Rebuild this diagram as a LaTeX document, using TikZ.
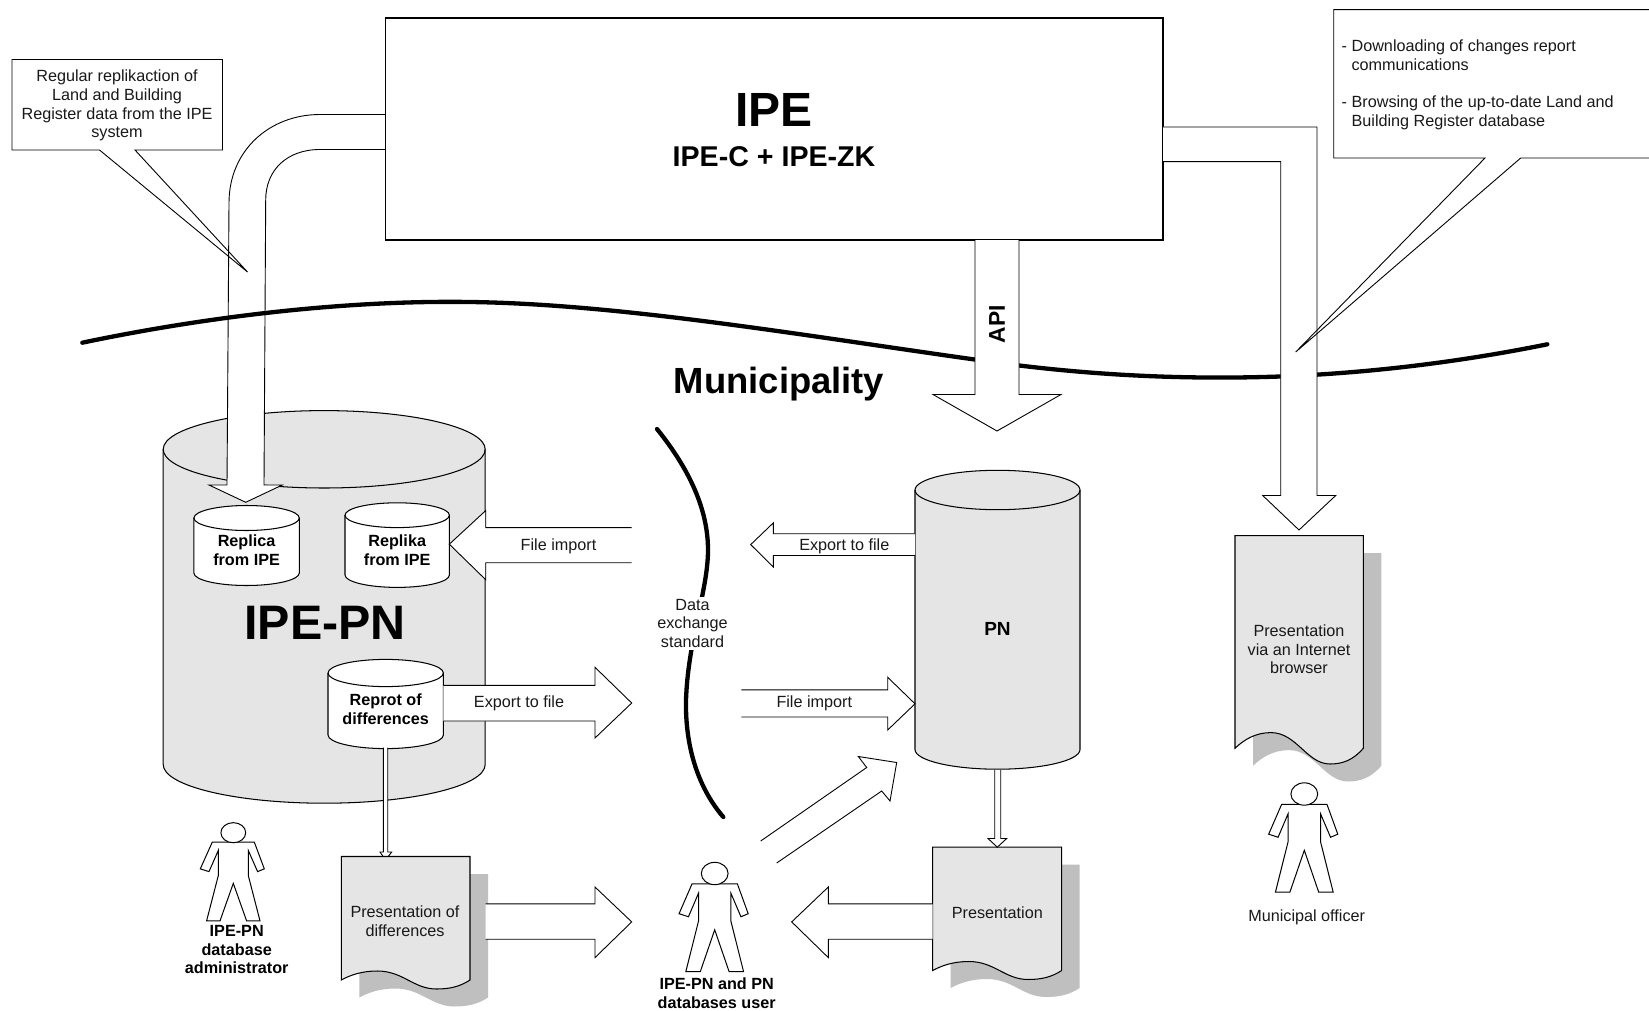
\documentclass[tikz,border=0pt]{standalone}
\usepackage{fontspec}
\setmainfont{Liberation Sans}
\definecolor{bodygray}{HTML}{E5E5E5}
\definecolor{shadegray}{HTML}{BFBFBF}
\newcommand{\fs}[1]{\fontsize{#1}{9.35pt}\selectfont}
\tikzset{
  outline/.style={draw=black,line width=0.52pt,line join=miter},
  blockarrow/.style={draw=black,fill=white,line width=0.45pt,line join=miter},
  thickcurve/.style={draw=black,line width=2.15pt,line cap=round,line join=round},
  callout/.style={draw=black,line width=0.45pt,line join=miter},
  plain/.style={font=\fs{8.1},align=center,inner sep=0pt,text=black!90},
  boldtxt/.style={font=\fs{8.1}\bfseries,align=center,inner sep=0pt},
}
% cylinder: name, cx, top-ellipse cy, rx, ry, side-end y, fill
\newcommand{\cylshape}[7]{%
  \path[outline,fill=#7] (#2-#4,#3) -- (#2-#4,#6)
     arc[start angle=180,end angle=360,x radius=#4*0.5pt,y radius=#5*0.5pt]
     -- (#2+#4,#3)
     arc[start angle=0,end angle=180,x radius=#4*0.5pt,y radius=#5*0.5pt] -- cycle;
  \path[outline] (#2-#4,#3)
     arc[start angle=180,end angle=360,x radius=#4*0.5pt,y radius=#5*0.5pt];
  \coordinate (#1) at (#2,#3);
}
% wave outline of a document: w, h, amplitude, offset x, offset y
\newcommand{\wavepath}[5]{%
  (#4,#5) -- (#4+#1,#5) -- (#4+#1,#5+#2)
      .. controls (#4+0.92*#1,#5+#2+0.75*#3) and (#4+0.84*#1,#5+#2+#3) .. (#4+0.74*#1,#5+#2+#3)
      .. controls (#4+0.56*#1,#5+#2+#3) and (#4+0.48*#1,#5+#2-#3) .. (#4+0.28*#1,#5+#2-#3)
      .. controls (#4+0.16*#1,#5+#2-#3) and (#4+0.07*#1,#5+#2-0.55*#3) .. (#4,#5+#2) -- cycle}
% document: name, x, y, w, hleft, amplitude
\newcommand{\docshape}[6]{%
  \begin{scope}[shift={(#2,#3)}]
    \fill[shadegray] \wavepath{#4}{#5}{#6}{18}{17.5};
    \path[outline,fill=bodygray] \wavepath{#4}{#5}{#6}{0}{0};
    \coordinate (#1) at (0,0);
  \end{scope}
}
% person: name, head centre, x scale, y scale
\newcommand{\personshape}[5]{%
  \begin{scope}[shift={(#2,#3)},xscale=#4,yscale=#5]
    \path[blockarrow,line width=0.5pt] (-21,9.5) -- (21,9.5) -- (31,36.7) -- (24.3,39.5) -- (15,18) -- (15,43.5)
      -- (26.7,89.5) -- (13.3,89.5) -- (0,51.4) -- (-13.3,89.5) -- (-26.7,89.5) -- (-15,43.5)
      -- (-15,18) -- (-24.3,39.5) -- (-33,36.7) -- cycle;
    \path[blockarrow,line width=0.5pt] (0,0) ellipse [x radius=6.2pt,y radius=5.1pt];
    \coordinate (#1) at (0,0);
  \end{scope}
}
\begin{document}
\begin{tikzpicture}[x=0.5pt,y=-0.5pt]
\useasboundingbox (0,0) rectangle (1649,1011);
\fill[white] (0,0) rectangle (1649,1011);

% IPE-PN big cylinder and inner cylinders
\cylshape{ipepncyl}{324.2}{449.3}{161}{38.7}{764.5}{bodygray}
\cylshape{replicacyl}{246.6}{518}{52.7}{12.5}{573}{white}
\cylshape{replikacyl}{397.2}{515.2}{52.2}{12.4}{575}{white}
\cylshape{reprotcyl}{385.7}{673}{57.7}{13.6}{735}{white}

% replication arrow (line passes over it)
\path[blockarrow] (385.7,114.5) -- (320,114.5)
   .. controls (270,114.5) and (229,150) .. (229,203)
   -- (227,485) -- (209,485) -- (245.7,502.3) -- (282.3,485) -- (264,485) -- (265.7,200)
   .. controls (265.7,170) and (287,149.5) .. (320,149.5) -- (385.7,149.5);

% boundary line
\draw[thickcurve] (82.3,342.7) .. controls (200,318) and (340,300) .. (470,302)
   .. controls (620,304) and (800,335) .. (976,359.7)
   .. controls (1080,375) and (1180,380) .. (1280,376.5)
   .. controls (1370,373) and (1460,362) .. (1547.3,344.3);

% data exchange curve
\draw[thickcurve] (657,429) .. controls (690,470) and (708,510) .. (708,550)
   .. controls (708,590) and (688,640) .. (686,700)
   .. controls (685,750) and (700,790) .. (723.3,817);

% IPE box
\path[outline,fill=white] (385.7,18) rectangle (1163,240);

% API arrow
\path[blockarrow] (975,240) -- (975,394.5) -- (933,394.5) -- (997,431) -- (1061,394.5) -- (1019,394.5) -- (1019,240);

% browser arrow
\path[blockarrow] (1163,127) -- (1317,127) -- (1317,495.5) -- (1335.7,495.5) -- (1299,530) -- (1262.7,495.5) -- (1280.7,495.5) -- (1280.7,161.6) -- (1163,161.6);

% file-import to replika
\path[blockarrow] (631.7,527.6) -- (485.7,527.6) -- (485.7,510.6) -- (449.3,544.2) -- (485.7,579.7) -- (485.7,562.7) -- (631.7,562.7);
% export from reprot
\path[blockarrow] (443.3,685.3) -- (595,685.3) -- (595,667.3) -- (631.7,703) -- (595,738) -- (595,721) -- (443.3,721);
% reprot to document
\path[blockarrow] (383.3,747.7) -- (383.3,852) -- (380,852) -- (385.5,860) -- (391.7,852) -- (387.7,852) -- (387.7,747.7);

% documents
\docshape{docdiff}{341.3}{856.5}{128.7}{123.5}{9}
\docshape{docpres}{932.7}{847.2}{129}{123.3}{9}
\docshape{docbrow}{1235}{535.7}{128.3}{212.6}{15.7}

% arrows beside documents
\path[blockarrow] (485.7,903.9) -- (595,903.9) -- (595,887) -- (631.7,921.9) -- (595,957.6) -- (595,939.2) -- (485.7,939.2);
\path[blockarrow] (932.7,903.9) -- (828.3,903.9) -- (828.3,887) -- (791.7,921.9) -- (828.3,957.6) -- (828.3,939.2) -- (932.7,939.2);

% PN cylinder
\path[blockarrow] (994.7,769.8) -- (994.7,838.5) -- (988,838.5) -- (997.3,847.2) -- (1006.7,838.5) -- (1000.7,838.5) -- (1000.7,769.8);
\cylshape{pncyl}{997.5}{490}{82.5}{19.7}{749.5}{bodygray}
\path[blockarrow] (915,533.7) -- (773.3,533.7) -- (773.3,522.9) -- (750.7,544.6) -- (773.3,567) -- (773.3,555.5) -- (915,555.5);
\path[blockarrow] (741.3,689.9) -- (887.7,689.9) -- (887.7,677.3) -- (915,703.8) -- (887.7,730) -- (887.7,717) -- (741.3,717);
\path[blockarrow] (760.7,841) -- (866.7,767.5) -- (858.3,756.5) -- (896.7,762.5) -- (890,801) -- (881.7,791) -- (776.7,863);

% callouts
\path[callout] (99.5,150) -- (12,150) -- (12,59.5) -- (222.5,59.5) -- (222.5,150) -- (135,150) -- (247.5,272) -- cycle;
\path[callout] (1649,9.7) -- (1333.7,9.7) -- (1333.7,158) -- (1485,158) -- (1295.7,352) -- (1520.7,158) -- (1649,158);

% persons
\personshape{persadmin}{233.3}{832.7}{1}{0.985}
\personshape{persuser}{714.7}{873.5}{1.08}{1.095}
\personshape{persoff}{1304.3}{794}{1.08}{1.095}

% texts
\node[font=\fs{24}\bfseries,inner sep=0pt] (ipetitle) at (774,110) {IPE};
\node[font=\fs{14.3}\bfseries,inner sep=0pt] (ipesub) at (774,157) {IPE-C + IPE-ZK};
\node[font=\fs{18.2}\bfseries,inner sep=0pt] (muni) at (779,384) {Municipality};
\node[font=\fs{24.2}\bfseries,inner sep=0pt] (ipepn) at (325,623) {IPE-PN};
\node[font=\fs{9.5}\bfseries,inner sep=0pt] (pn) at (997.5,629) {PN};
\node[font=\fs{11.4}\bfseries,inner sep=0pt,rotate=90] (api) at (997,324) {API};

\node[plain] (note1) at (117,105.5) {Regular replikaction of\\Land and Building\\Register data from the IPE\\system};
\node[plain,anchor=west,align=left] (note2) at (1341.3,85) {- Downloading of changes report\\\phantom{- }communications\\[9.35pt]- Browsing of the up-to-date Land and\\\phantom{- }Building Register database};

\node[boldtxt] (replica) at (246.6,550) {Replica\\from IPE};
\node[boldtxt] (replika) at (397.2,550) {Replika\\from IPE};
\node[boldtxt] (reprot) at (385.7,709.5) {Reprot of\\differences};

\node[plain] (t1) at (558.5,546.6) {File import};
\node[plain] (t2) at (519,703) {Export to file};
\node[plain] (t3) at (844.3,546.6) {Export to file};
\node[plain] (t4) at (814.3,703) {File import};
\node[plain,fill=white,inner ysep=1pt] (dstd) at (692.5,623.5) {Data\\exchange\\standard};

\node[plain] (d1) at (405,921.5) {Presentation of\\differences};
\node[plain] (d2) at (997.3,912.5) {Presentation};
\node[plain] (d3) at (1299,649.5) {Presentation\\via an Internet\\browser};

\node[boldtxt] (l1) at (236.7,949.5) {IPE-PN\\database\\administrator};
\node[boldtxt] (l2) at (716.7,993.5) {IPE-PN and PN\\databases user};
\node[plain] (l3) at (1306.7,917) {Municipal officer};
\end{tikzpicture}
\end{document}
